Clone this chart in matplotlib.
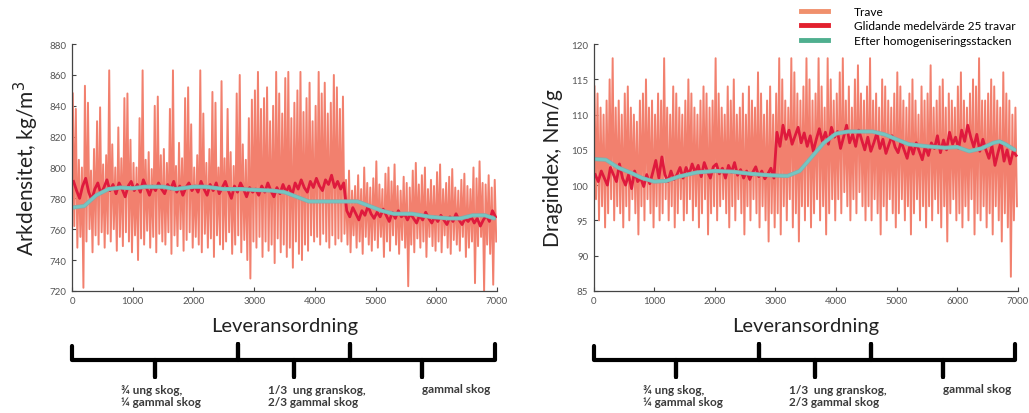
import numpy as np
import matplotlib
matplotlib.use("Agg")
import matplotlib.pyplot as plt
from matplotlib.lines import Line2D
from matplotlib.transforms import blended_transform_factory

plt.rcParams['font.family'] = ['Lato', 'DejaVu Sans']

# ---- data: bins of 50 deliveries (Leveransordning) ----
bin_width = 50

# Arkdensitet, kg/m3 -- per-bin max / min of single stacks (Trave)
ark_high = [848, 838, 805, 800, 853, 842, 798, 812, 830, 839,
            802, 808, 863, 815, 800, 826, 806, 845, 848, 818,
            803, 800, 832, 863, 805, 810, 799, 840, 846, 808,
            812, 803, 838, 863, 801, 816, 806, 845, 852, 828,
            800, 808, 863, 835, 803, 812, 849, 842, 800, 856,
            806, 838, 810, 801, 848, 860, 815, 805, 832, 844,
            850, 862, 838, 845, 852, 830, 840, 862, 848, 835,
            858, 862, 832, 842, 850, 862, 836, 845, 855, 830,
            840, 862, 848, 855, 835, 842, 860, 852, 838, 846,
            792, 798, 785, 788, 795, 786, 800, 790, 787, 793,
            804, 789, 786, 796, 800, 791, 802, 788, 785, 794,
            790, 787, 798, 803, 789, 795, 800, 786, 792, 788,
            797, 802, 786, 790, 794, 799, 787, 785, 792, 796,
            788, 786, 800, 793, 804, 790, 789, 795, 787, 792]
ark_low = [762, 748, 755, 722, 752, 760, 745, 756, 750, 758,
           748, 757, 752, 760, 746, 755, 749, 758, 752, 745,
           756, 740, 754, 750, 759, 748, 755, 745, 757, 752,
           750, 758, 744, 756, 749, 760, 746, 753, 758, 748,
           755, 750, 745, 757, 748, 754, 742, 756, 750, 747,
           752, 758, 744, 750, 756, 745, 753, 740, 728, 752,
           748, 755, 742, 752, 746, 750, 738, 754, 745, 750,
           742, 748, 735, 752, 744, 740, 750, 746, 756, 752,
           755, 750, 757, 752, 748, 756, 750, 754, 752, 757,
           750, 745, 756, 748, 752, 744, 755, 750, 746, 753,
           748, 755, 742, 752, 746, 756, 750, 744, 753, 748,
           723, 750, 745, 754, 748, 752, 742, 755, 749, 746,
           752, 745, 756, 748, 744, 753, 750, 746, 755, 742,
           748, 752, 725, 749, 755, 720, 750, 744, 724, 752]
# moving average 25 stacks
ark_avg = [791, 785, 780, 788, 793, 784, 779, 786, 790, 783,
           787, 792, 785, 789, 783, 790, 786, 781, 788, 791,
           785, 789, 784, 792, 787, 782, 788, 785, 790, 786,
           783, 789, 786, 791, 784, 788, 782, 787, 790, 785,
           788, 784, 791, 786, 782, 789, 785, 790, 783, 787,
           791, 785, 780, 788, 784, 790, 786, 781, 787, 784,
           786, 782, 788, 784, 790, 785, 781, 787, 783, 789,
           784, 788, 782, 790, 786, 792, 787, 784, 791, 787,
           793, 788, 785, 792, 789, 795, 787, 791, 786, 790,
           772, 768, 774, 770, 766, 772, 769, 775, 770, 767,
           771, 768, 773, 769, 765, 771, 767, 772, 768, 770,
           766, 770, 767, 764, 769, 766, 771, 767, 764, 768,
           765, 769, 766, 763, 768, 765, 770, 766, 763, 767,
           765, 768, 764, 767, 762, 766, 769, 765, 772, 768]
# after homogenisation stack
homog_x = [0, 200, 400, 600, 800, 1000, 1200, 1500, 1700, 2000, 2200, 2500,
           2800, 3000, 3300, 3500, 3700, 3900, 4200, 4500, 4700, 4900, 5100,
           5300, 5600, 5900, 6200, 6400, 6600, 6800, 6950]
ark_homog = [774, 775, 782, 786, 787, 786.5, 787.5, 787.5, 786, 787.5, 787.5,
             786, 786, 785.5, 785, 784, 781, 778, 778, 778, 778, 775, 772,
             770, 770, 768, 767, 767, 769, 769, 767]

# Dragindex, Nm/g
drag_high = [114, 113, 111, 110, 112, 115, 118, 111, 112, 110,
             113, 114, 111, 110, 109, 112, 113, 115, 111, 112,
             110, 113, 112, 118, 111, 110, 114, 113, 111, 110,
             112, 115, 113, 111, 110, 112, 114, 113, 111, 112,
             118, 113, 111, 110, 114, 112, 115, 110, 111, 113,
             110, 114, 112, 111, 116, 113, 110, 112, 114, 110,
             113, 118, 115, 112, 111, 118, 116, 113, 112, 114,
             118, 115, 112, 113, 118, 114, 111, 118, 115, 112,
             113, 116, 118, 112, 114, 111, 115, 117, 113, 112,
             114, 118, 112, 113, 111, 115, 114, 112, 111, 113,
             116, 114, 112, 111, 113, 115, 112, 110, 114, 112,
             113, 117, 111, 112, 114, 115, 111, 113, 112, 111,
             114, 116, 112, 111, 113, 115, 114, 118, 112, 112,
             113, 115, 114, 112, 111, 116, 113, 112, 110, 111]
drag_low = [98, 95, 97, 94, 96, 98, 95, 97, 96, 94,
            97, 95, 98, 96, 93, 97, 95, 98, 96, 94,
            97, 95, 96, 98, 95, 97, 94, 96, 98, 95,
            96, 98, 95, 97, 94, 96, 98, 93, 96, 97,
            95, 97, 98, 96, 94, 97, 95, 98, 96, 93,
            97, 95, 98, 96, 94, 97, 95, 92, 96, 94,
            96, 93, 97, 95, 98, 94, 96, 92, 97, 95,
            97, 94, 96, 98, 95, 97, 93, 96, 98, 95,
            98, 96, 99, 97, 95, 98, 96, 99, 97, 95,
            97, 95, 98, 96, 93, 97, 95, 98, 96, 94,
            96, 98, 95, 97, 93, 96, 98, 95, 97, 94,
            97, 95, 98, 96, 94, 97, 92, 96, 98, 95,
            96, 94, 97, 95, 98, 93, 96, 95, 97, 94,
            96, 93, 97, 95, 92, 96, 94, 87, 95, 97]
drag_avg = [101.5, 100.5, 102.0, 101.0, 100.0, 102.5, 101.5, 100.5, 103.0, 101.0,
            100.0, 101.5, 99.5, 102.0, 100.5, 101.0, 99.8, 101.5, 100.2, 101.8,
            103.5, 101.0, 104.0, 101.5, 100.5, 102.0, 100.8, 101.5, 102.5, 101.0,
            102.5, 101.5, 103.0, 101.8, 102.8, 101.2, 103.2, 102.0, 101.0, 102.6,
            103.0, 101.6, 102.4, 101.0, 102.8, 101.8, 103.2, 101.4, 102.2, 101.0,
            102.0, 100.8, 101.8, 102.6, 101.2, 102.0, 100.9, 101.6, 102.4, 101.0,
            107.5, 105.5, 108.5, 106.5, 107.8, 105.8, 107.0, 108.2, 106.0, 107.4,
            105.5, 107.0, 104.8, 106.5, 108.0, 106.2, 107.5, 105.8, 108.2, 106.8,
            107.6, 105.2, 106.8, 108.5, 106.0, 107.2, 105.5, 107.8, 106.4, 105.0,
            106.8, 104.8, 106.0, 107.4, 105.2, 106.5, 104.5, 105.8, 107.0, 105.4,
            104.6, 106.2, 105.0, 103.8, 105.8, 104.4, 106.0, 104.8, 103.6, 105.5,
            104.2, 106.0, 105.2, 107.0, 104.6, 106.4, 105.0, 107.5, 105.8, 106.8,
            105.2, 107.8, 106.2, 108.5, 106.8, 105.4, 107.2, 104.8, 106.5, 105.0,
            103.8, 105.6, 102.8, 104.6, 106.2, 103.4, 105.0, 103.0, 104.8, 104.2]
drag_homog_x = [0, 200, 400, 600, 800, 1000, 1200, 1400, 1700, 2000, 2300,
                2600, 2900, 3200, 3400, 3600, 3800, 4000, 4200, 4600, 4800,
                5000, 5200, 5500, 5800, 6000, 6200, 6400, 6600, 6700, 6800, 6950]
drag_homog = [103.7, 103.6, 102.5, 101.8, 101.0, 100.5, 100.6, 101.2, 101.8,
              102.0, 101.9, 101.6, 101.4, 101.3, 102.0, 104.0, 106.0, 107.3,
              107.6, 107.6, 107.2, 106.5, 105.8, 105.5, 105.3, 105.4, 104.8,
              105.2, 106.0, 106.2, 105.8, 105.0]

# raw-material periods along the delivery order
period_bounds = [0, 2730, 4580, 6960]
period_labels = ["¾ ung skog,\n¼ gammal skog",
                 "1/3  ung granskog,\n2/3 gammal skog",
                 "gammal skog"]

c_trave = '#F2806E'
c_avg = '#DF1A3D'
c_homog = '#74C6C2'


def zigzag(high, low):
    n = len(high)
    x = np.arange(2 * n) * bin_width / 2 + bin_width / 4
    y = np.empty(2 * n)
    y[0::2] = high
    y[1::2] = low
    return x, y


def panel(ax, high, low, avg, hx, homog, ylim, yticks, ylabel):
    x, y = zigzag(high, low)
    ax.plot(x, y, color=c_trave, lw=1.4)
    xa = np.arange(len(avg)) * bin_width + bin_width / 2
    ax.plot(xa, avg, color=c_avg, lw=2.0)
    ax.plot(hx, homog, color='#8aa8a8', lw=3.0, solid_capstyle='round')
    ax.plot(hx, homog, color=c_homog, lw=2.0, solid_capstyle='round')
    ax.set_xlim(0, 7000)
    ax.set_ylim(*ylim)
    ax.set_yticks(yticks)
    ax.set_xticks(range(0, 7001, 1000))
    for s in ['top', 'right']:
        ax.spines[s].set_visible(False)
    for s in ['left', 'bottom']:
        ax.spines[s].set_color('#444444')
        ax.spines[s].set_linewidth(0.9)
    ax.tick_params(direction='in', length=3, width=0.8, colors='#444444',
                   labelsize=7, labelcolor='#555555', pad=4)
    ax.set_ylabel(ylabel, fontsize=15, color='#222222', labelpad=6)
    ax.set_xlabel('Leveransordning', fontsize=14.5, color='#222222', labelpad=8)

    # curly brackets for the raw-material periods
    tr = blended_transform_factory(ax.transData, fig.transFigure)
    y_top, y_line, y_tip = 0.162, 0.129, 0.087
    b = period_bounds
    xs = [b[0], b[0]]
    ys = [y_top, y_line]
    for i in range(3):
        m = (b[i] + b[i + 1]) / 2
        xs += [m, m, m, b[i + 1], b[i + 1], b[i + 1]]
        ys += [y_line, y_tip, y_line, y_line, y_top + 0.004, y_line]
    xs[-1:] = []
    ys[-1:] = []
    ax.plot(xs, ys, color='black', lw=3.0, transform=tr, clip_on=False,
            solid_joinstyle='round', solid_capstyle='round')
    label_x = [1470, 4030, 6330]
    label_y = [0.043, 0.043, 0.058]
    for lx, ly, t in zip(label_x, label_y, period_labels):
        ax.text(lx, ly, t, transform=tr, ha='center', va='center',
                multialignment='left', fontsize=8.5, fontweight='bold',
                color='#3a3a3a', linespacing=1.15)


fig = plt.figure(figsize=(10.29, 4.14), dpi=100)
ax1 = fig.add_axes([0.070, 0.295, 0.413, 0.596])
ax2 = fig.add_axes([0.577, 0.295, 0.412, 0.596])

panel(ax1, ark_high, ark_low, ark_avg, homog_x, ark_homog,
      (720, 880), range(720, 881, 20), 'Arkdensitet, kg/m$^3$')
panel(ax2, drag_high, drag_low, drag_avg, drag_homog_x, drag_homog,
      (85, 120), range(85, 121, 5), 'Dragindex, Nm/g')

handles = [Line2D([], [], color='#F0906C', lw=3.5),
           Line2D([], [], color='#E2202E', lw=3.5),
           Line2D([], [], color='#4FAF8F', lw=3.5)]
fig.legend(handles, ['Trave', 'Glidande medelvärde 25 travar',
                     'Efter homogeniseringsstacken'],
           loc='upper left', bbox_to_anchor=(0.768, 1.009), frameon=False,
           fontsize=8.6, handlelength=2.3, handletextpad=2.1,
           labelspacing=0.28)

fig.savefig('out.png', dpi=100)
